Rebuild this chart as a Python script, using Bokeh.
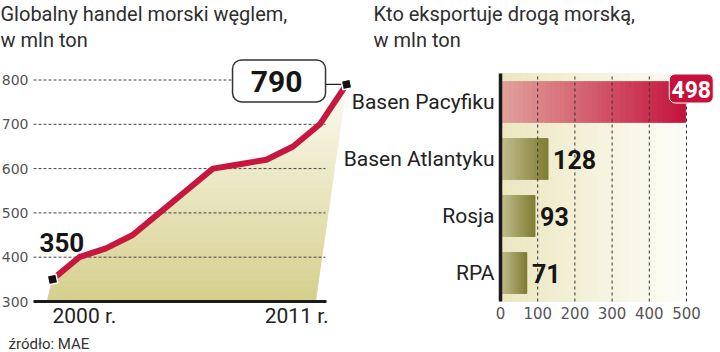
import numpy as np
from bokeh.plotting import figure
from bokeh.models import Range1d, LinearAxis, FixedTicker
from bokeh.core.properties import value
from bokeh.embed import file_html
from bokeh.resources import INLINE

# ---------------- data ----------------
years = [2000, 2001, 2002, 2003, 2004, 2005, 2006, 2007, 2008, 2009, 2010, 2011]
trade = [350, 400, 420, 450, 500, 550, 600, 610, 620, 650, 700, 790]
trade_ticks = [300, 400, 500, 600, 700, 800]
year_labels = ["2000 r.", "2011 r."]

exporters = ["Basen Pacyfiku", "Basen Atlantyku", "Rosja", "RPA"]
exports = [498, 128, 93, 71]
export_ticks = [0, 100, 200, 300, 400, 500]

title_left = ["Globalny handel morski węglem,", "w mln ton"]
title_right = ["Kto eksportuje drogą morską,", "w mln ton"]
source_text = "źródło: MAE"

# ---------------- layout constants (pixels) ----------------
W, H = 720, 352
L_X0, L_DX = 52.0, 26.73      # px of first year, px per year
L_Y0, L_DY = 301.0, 0.443     # px of 300 value, px per unit
R_X0, R_DX = 500.0, 0.372     # px of 0 export, px per unit
R_Y0, R_DY = 301.0, 57.0      # px of category baseline, px per category

def lx(px):
    return years[0] + (px - L_X0) / L_DX

def ly(py):
    return trade_ticks[0] + (L_Y0 - py) / L_DY

def rx(px):
    return (px - R_X0) / R_DX

def ry(py):
    return (R_Y0 - py) / R_DY

def hex2rgb(h):
    h = h.lstrip("#")
    return [int(h[i:i + 2], 16) for i in (0, 2, 4)]

def mix(c1, c2, t):
    a, b = hex2rgb(c1), hex2rgb(c2)
    return "#%02x%02x%02x" % tuple(int(round(a[i] + (b[i] - a[i]) * t)) for i in range(3))

SANS = value("Roboto")
NUM = value("Roboto")

p = figure(width=W, height=H, output_backend="svg", toolbar_location=None,
           x_axis_type=None, y_axis_type=None,
           x_range=Range1d(lx(0), lx(W)), y_range=Range1d(ly(H), ly(0)),
           min_border=0, min_border_left=0, min_border_right=0,
           min_border_top=0, min_border_bottom=0)
p.extra_x_ranges = {"exp": Range1d(rx(0), rx(W)), "px": Range1d(0, W)}
p.extra_y_ranges = {"cat": Range1d(ry(H), ry(0)), "py": Range1d(H, 0)}
p.outline_line_color = None
p.background_fill_color = "white"
p.border_fill_color = "white"

# ---------------- left chart ----------------
def clip(poly, y, keep_above):
    out = []
    n = len(poly)
    for i in range(n):
        cur, prev = poly[i], poly[i - 1]
        cin = cur[1] >= y if keep_above else cur[1] <= y
        pin = prev[1] >= y if keep_above else prev[1] <= y
        if cin:
            if not pin:
                t = (y - prev[1]) / (cur[1] - prev[1])
                out.append((prev[0] + t * (cur[0] - prev[0]), y))
            out.append(cur)
        elif pin:
            t = (y - prev[1]) / (cur[1] - prev[1])
            out.append((prev[0] + t * (cur[0] - prev[0]), y))
    return out

base = trade_ticks[0]
poly = [(lx(46.7), base)] + list(zip(years, trade)) + [(lx(315), base)]
nb = 40
top_val = max(trade)
xs, ys, cols = [], [], []
for k in range(nb):
    lo = base + (top_val - base) * k / nb
    hi = base + (top_val - base) * (k + 1) / nb
    band = clip(clip(poly, lo, True), hi, False)
    if len(band) >= 3:
        xs.append([q[0] for q in band])
        ys.append([q[1] for q in band])
        cols.append(mix("#d5cf8c", "#fcfbf2", (k + 0.5) / nb))
p.patches(xs, ys, fill_color=cols, line_color=cols, line_width=0.8)

# gridlines
grid_vals = trade_ticks[1:]
p.segment(x0=[lx(33)] * len(grid_vals), y0=grid_vals, x1=[lx(325)] * len(grid_vals), y1=grid_vals,
          line_color="#444444", line_width=1, line_dash="3 2")
# baseline
p.segment(x0=[lx(33)], y0=[base], x1=[lx(326)], y1=[base], line_color="#1a1a1a", line_width=3)

# line
p.line(years, trade, line_color="#c8173f", line_width=6, line_join="round")

# callout for last value
p.segment(x0=[years[-1] - 21 / L_DX], y0=[trade[-1]], x1=[years[-1]], y1=[trade[-1]],
          line_color="#222222", line_width=1.2)
p.rect(x=[years[-1] - 67.5 / L_DX], y=[trade[-1] + 3.5 / L_DY], width=93, height=42,
       width_units="screen", height_units="screen", border_radius=9,
       fill_color="white", line_color="#333333", line_width=1.5)
p.text(x=[years[-1] - 70 / L_DX], y=[trade[-1] + 2.5 / L_DY], text=[str(trade[-1])],
       text_font=NUM, text_font_style="bold", text_font_size="30px", text_color="#151515",
       text_align="center", text_baseline="middle")
# first value label
p.text(x=[years[0] - 13 / L_DX], y=[trade[0] + 36.5 / L_DY], text=[str(trade[0])],
       text_font=NUM, text_font_style="bold", text_font_size="26px", text_color="#151515",
       text_align="left", text_baseline="middle")

# markers
p.scatter([years[0], years[-1]], [trade[0], trade[-1]], marker="square", size=9,
          fill_color="#111111", line_color="white", line_width=1.5, angle=0.2)

# year labels
p.text(x=[years[0]], y=[ly(315.5)], text=[year_labels[0]], text_font=SANS, text_font_size="21px",
       text_color="#222222", text_align="left", text_baseline="middle")
p.text(x=[years[-1] - 18 / L_DX], y=[ly(315.5)], text=[year_labels[1]], text_font=SANS,
       text_font_size="21px", text_color="#222222", text_align="right", text_baseline="middle")

ax_l = LinearAxis(ticker=FixedTicker(ticks=trade_ticks), fixed_location=lx(33))
ax_l.axis_line_color = None
ax_l.major_tick_line_color = None
ax_l.minor_tick_line_color = None
ax_l.major_tick_in = 0
ax_l.major_tick_out = 0
ax_l.major_label_standoff = 5
ax_l.major_label_text_font = "DejaVu Sans"
ax_l.major_label_text_font_size = "14px"
ax_l.major_label_text_color = "#555555"
p.add_layout(ax_l, "left")

# ---------------- right chart ----------------
cat_top = len(exporters)
centers = [len(exporters) - i - 0.5 for i in range(len(exporters))]

# background gradient
nbg = 60
bl = [export_ticks[-1] * j / nbg for j in range(nbg)]
br = [export_ticks[-1] * (j + 1) / nbg for j in range(nbg)]
bc = [mix("#ebe7c0", "#fdfdf8", (j + 0.5) / nbg) for j in range(nbg)]
p.quad(left=bl, right=br, bottom=0, top=cat_top, fill_color=bc, line_color=bc, line_width=0.8,
       x_range_name="exp", y_range_name="cat")

# bars (base + gradient strips)
bh = 0.72
p.hbar(y=centers, right=exports, left=0, height=bh, fill_color="#a09c5a", line_color=None,
       x_range_name="exp", y_range_name="cat")
ns = 40
ql, qr, qb, qt, qc = [], [], [], [], []
for i, v in enumerate(exports):
    c1, c2 = ("#e2a39d", "#c4123d") if i == 0 else ("#c6c294", "#807c33")
    for j in range(ns):
        ql.append(v * j / ns)
        qr.append(v * (j + 1) / ns)
        qb.append(centers[i] - bh / 2)
        qt.append(centers[i] + bh / 2)
        qc.append(mix(c1, c2, (j + 0.5) / ns))
p.quad(left=ql, right=qr, bottom=qb, top=qt, fill_color=qc, line_color=qc, line_width=0.6,
       x_range_name="exp", y_range_name="cat")

# gridlines
gv = export_ticks[1:]
p.segment(x0=gv, y0=[0] * len(gv), x1=gv, y1=[cat_top] * len(gv), line_color="#333333",
          line_width=1, line_dash="3 3", x_range_name="exp", y_range_name="cat")
# axis line
p.segment(x0=[0], y0=[0], x1=[0], y1=[cat_top], line_color="#1a1a1a", line_width=3.5,
          x_range_name="exp", y_range_name="cat")

# value labels
p.text(x=[v + 5 / R_DX for v in exports[1:]], y=centers[1:], text=[str(v) for v in exports[1:]],
       text_font=NUM, text_font_style="bold", text_font_size="25px", text_color="#151515",
       text_align="left", text_baseline="middle", x_range_name="exp", y_range_name="cat")
# badge for top value
p.rect(x=[exports[0] + 5.5 / R_DX], y=[centers[0] + 13.5 / R_DY], width=44, height=29,
       width_units="screen", height_units="screen", border_radius=6,
       fill_color="#c8103a", line_color="white", line_width=1,
       x_range_name="exp", y_range_name="cat")
p.text(x=[exports[0] + 5.5 / R_DX], y=[centers[0] + 13 / R_DY], text=[str(exports[0])],
       text_font=NUM, text_font_style="bold", text_font_size="23px", text_color="white",
       text_align="center", text_baseline="middle", x_range_name="exp", y_range_name="cat")

ax_b = LinearAxis(x_range_name="exp", y_range_name="cat", ticker=FixedTicker(ticks=export_ticks),
                  fixed_location=0)
ax_b.axis_line_color = None
ax_b.major_tick_line_color = None
ax_b.minor_tick_line_color = None
ax_b.major_tick_in = 0
ax_b.major_tick_out = 0
ax_b.major_label_standoff = 5
ax_b.major_label_text_font = "DejaVu Sans"
ax_b.major_label_text_font_size = "15px"
ax_b.major_label_text_color = "#555555"
p.add_layout(ax_b, "below")

ax_c = LinearAxis(x_range_name="exp", y_range_name="cat", ticker=FixedTicker(ticks=centers),
                  major_label_overrides={c: n for c, n in zip(centers, exporters)},
                  fixed_location=0)
ax_c.axis_line_color = None
ax_c.major_tick_line_color = None
ax_c.minor_tick_line_color = None
ax_c.major_tick_in = 0
ax_c.major_tick_out = 0
ax_c.major_label_standoff = 6
ax_c.major_label_text_font = "Roboto"
ax_c.major_label_text_font_size = "21px"
ax_c.major_label_text_color = "#222222"
p.add_layout(ax_c, "left")

# ---------------- titles & source ----------------
p.text(x=[0, 0], y=[13.5, 39.5], text=title_left, text_font=SANS, text_font_size="20px",
       text_color="#2e2e2e", text_align="left", text_baseline="middle",
       x_range_name="px", y_range_name="py")
p.text(x=[373, 373], y=[13.5, 39.5], text=title_right, text_font=SANS, text_font_size="20px",
       text_color="#2e2e2e", text_align="left", text_baseline="middle",
       x_range_name="px", y_range_name="py")
p.text(x=[8], y=[343], text=[source_text], text_font=SANS, text_font_size="15px",
       text_color="#333333", text_align="left", text_baseline="middle",
       x_range_name="px", y_range_name="py")

open("out.html", "w").write(file_html(p, INLINE))
